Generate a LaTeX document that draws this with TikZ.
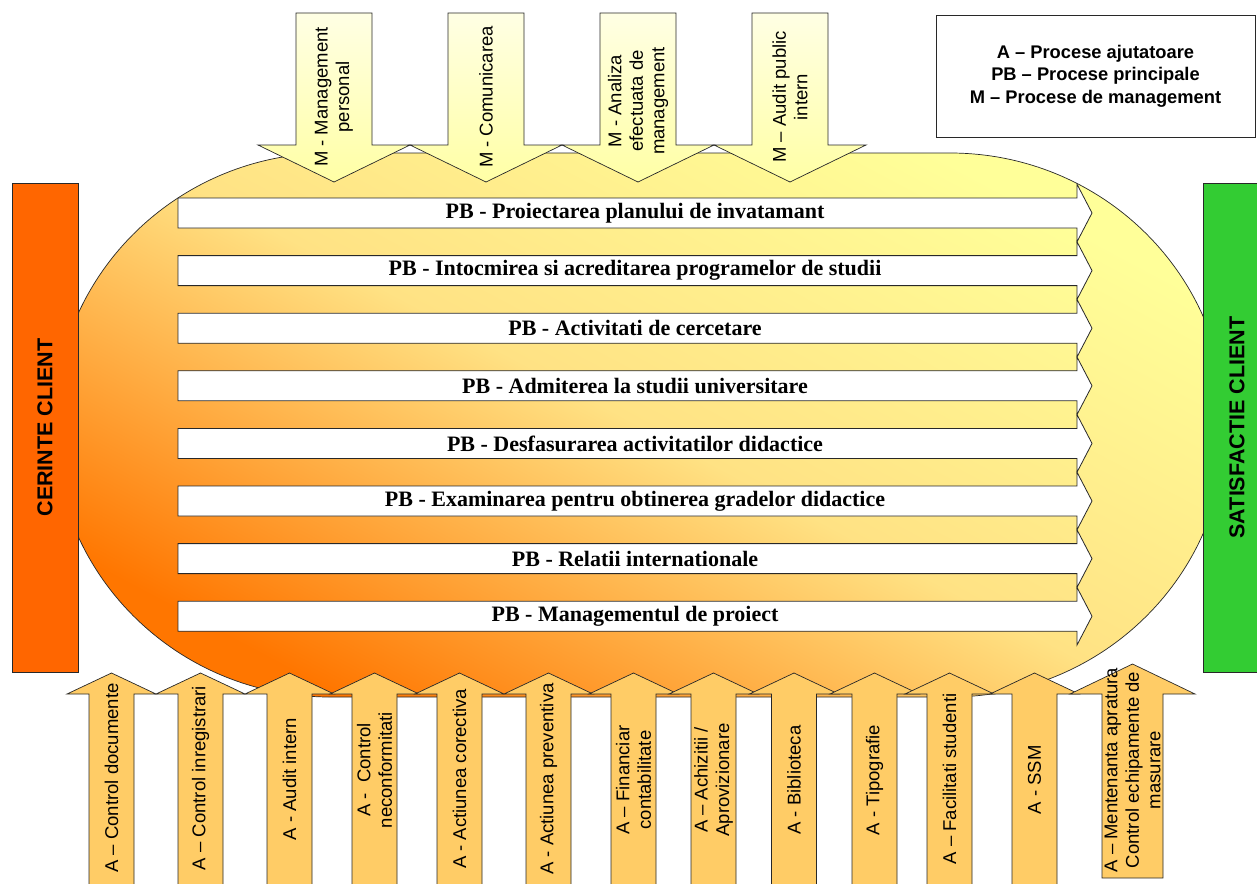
\documentclass[tikz,border=0pt]{standalone}
\usepackage{fontspec}
\setmainfont{Liberation Serif}
\setsansfont{Liberation Sans}

\definecolor{cerorange}{RGB}{255,102,0}
\definecolor{satgreen}{RGB}{51,204,51}
\definecolor{ovalorange}{RGB}{255,118,0}
\definecolor{ovalmid}{RGB}{255,226,132}
\definecolor{ovalyellow}{RGB}{255,255,153}
\definecolor{mtop}{RGB}{255,255,228}
\definecolor{mbot}{RGB}{255,255,165}
\definecolor{afill}{RGB}{255,204,102}
\definecolor{edge}{RGB}{40,40,40}

\begin{document}
\begin{tikzpicture}[x=1pt, y=-1pt,
    oval/.style={draw=edge, line width=0.7pt, top color=ovalyellow, bottom color=ovalorange, middle color=ovalmid, shading angle=-28},
    pbarrow/.style={draw=edge, line width=0.8pt, fill=white},
    marrow/.style={draw=edge, line width=0.7pt, top color=mtop, bottom color=mbot},
    aarrow/.style={draw=edge, line width=0.7pt, fill=afill},
    pblabel/.style={font=\fontsize{22}{24}\selectfont\bfseries, inner sep=0pt},
    mlabel/.style={font=\sffamily\fontsize{18.5}{21.5}\selectfont, align=center, rotate=90, inner sep=0pt},
    clientbar/.style={draw=edge, line width=0.7pt, rotate=90, inner sep=0pt, font=\sffamily\bfseries\fontsize{21.5}{24}\selectfont}]
  \useasboundingbox (0,0) rectangle (1257,883);

  % oval behind the main processes
  \draw[oval] (330,153) -- (950,153) arc[start angle=-90, end angle=90, x radius=276, y radius=272]
    -- (330,697) arc[start angle=90, end angle=270, x radius=276, y radius=272] -- cycle;

  % PB arrows
  \draw[pbarrow] (178,198) -- ++(899,0) -- ++(0,-13.8) -- ++(15,28.8) -- ++(-15,28.8) -- ++(0,-13.8) -- ++(-899,0) -- cycle;
  \draw[pbarrow] (178,255.6) -- ++(899,0) -- ++(0,-13.8) -- ++(15,28.8) -- ++(-15,28.8) -- ++(0,-13.8) -- ++(-899,0) -- cycle;
  \draw[pbarrow] (178,313.2) -- ++(899,0) -- ++(0,-13.8) -- ++(15,28.8) -- ++(-15,28.8) -- ++(0,-13.8) -- ++(-899,0) -- cycle;
  \draw[pbarrow] (178,370.8) -- ++(899,0) -- ++(0,-13.8) -- ++(15,28.8) -- ++(-15,28.8) -- ++(0,-13.8) -- ++(-899,0) -- cycle;
  \draw[pbarrow] (178,428.4) -- ++(899,0) -- ++(0,-13.8) -- ++(15,28.8) -- ++(-15,28.8) -- ++(0,-13.8) -- ++(-899,0) -- cycle;
  \draw[pbarrow] (178,486) -- ++(899,0) -- ++(0,-13.8) -- ++(15,28.8) -- ++(-15,28.8) -- ++(0,-13.8) -- ++(-899,0) -- cycle;
  \draw[pbarrow] (178,543.6) -- ++(899,0) -- ++(0,-13.8) -- ++(15,28.8) -- ++(-15,28.8) -- ++(0,-13.8) -- ++(-899,0) -- cycle;
  \draw[pbarrow] (178,601.2) -- ++(899,0) -- ++(0,-13.8) -- ++(15,28.8) -- ++(-15,28.8) -- ++(0,-13.8) -- ++(-899,0) -- cycle;

  % M arrows
  \draw[marrow] (296,13) -- ++(76,0) -- ++(0,132) -- ++(38,0) -- ++(-76,37) -- ++(-76,-37) -- ++(38,0) -- cycle;
  \draw[marrow] (448,13) -- ++(76,0) -- ++(0,132) -- ++(38,0) -- ++(-76,37) -- ++(-76,-37) -- ++(38,0) -- cycle;
  \draw[marrow] (600,13) -- ++(76,0) -- ++(0,132) -- ++(38,0) -- ++(-76,37) -- ++(-76,-37) -- ++(38,0) -- cycle;
  \draw[marrow] (752,13) -- ++(76,0) -- ++(0,132) -- ++(38,0) -- ++(-76,37) -- ++(-76,-37) -- ++(38,0) -- cycle;

  % A arrows
  \draw[aarrow] (89,890) -- ++(0,-196) -- ++(-22,0) -- ++(44.5,-21) -- ++(44.5,21) -- ++(-22,0) -- ++(0,196) -- cycle;
  \draw[aarrow] (178,890) -- ++(0,-196) -- ++(-22,0) -- ++(44.5,-21) -- ++(44.5,21) -- ++(-22,0) -- ++(0,196) -- cycle;
  \draw[aarrow] (267,890) -- ++(0,-196) -- ++(-22,0) -- ++(44.5,-21) -- ++(44.5,21) -- ++(-22,0) -- ++(0,196) -- cycle;
  \draw[aarrow] (352,890) -- ++(0,-196) -- ++(-22,0) -- ++(44.5,-21) -- ++(44.5,21) -- ++(-22,0) -- ++(0,196) -- cycle;
  \draw[aarrow] (437,890) -- ++(0,-196) -- ++(-22,0) -- ++(44.5,-21) -- ++(44.5,21) -- ++(-22,0) -- ++(0,196) -- cycle;
  \draw[aarrow] (526,890) -- ++(0,-196) -- ++(-22,0) -- ++(44.5,-21) -- ++(44.5,21) -- ++(-22,0) -- ++(0,196) -- cycle;
  \draw[aarrow] (611,890) -- ++(0,-196) -- ++(-22,0) -- ++(44.5,-21) -- ++(44.5,21) -- ++(-22,0) -- ++(0,196) -- cycle;
  \draw[aarrow] (691,890) -- ++(0,-196) -- ++(-22,0) -- ++(44.5,-21) -- ++(44.5,21) -- ++(-22,0) -- ++(0,196) -- cycle;
  \draw[aarrow] (771.5,890) -- ++(0,-196) -- ++(-22,0) -- ++(44.5,-21) -- ++(44.5,21) -- ++(-22,0) -- ++(0,196) -- cycle;
  \draw[aarrow] (852,890) -- ++(0,-196) -- ++(-22,0) -- ++(44.5,-21) -- ++(44.5,21) -- ++(-22,0) -- ++(0,196) -- cycle;
  \draw[aarrow] (927,890) -- ++(0,-196) -- ++(-22,0) -- ++(44.5,-21) -- ++(44.5,21) -- ++(-22,0) -- ++(0,196) -- cycle;
  \draw[aarrow] (1012,890) -- ++(0,-196) -- ++(-22,0) -- ++(44.5,-21) -- ++(44.5,21) -- ++(-22,0) -- ++(0,196) -- cycle;
  \draw[aarrow] (1102,878) -- ++(0,-184) -- ++(-32,0) -- ++(62.5,-30) -- ++(62.5,30) -- ++(-32,0) -- ++(0,184) -- cycle;

  % client bars
  \node[clientbar, fill=cerorange, minimum width=489, minimum height=66] (cerinte) at (45,427.5) {CERINTE CLIENT};
  \node[clientbar, fill=satgreen, minimum width=489, minimum height=68] (satisf) at (1237,427.5) {SATISFACTIE CLIENT};

  % legend
  \node[draw=edge, line width=0.7pt, minimum width=319, minimum height=122, align=center,
        font=\sffamily\bfseries\fontsize{18.3}{22.5}\selectfont] (legend) at (1095.5,76)
        {A -- Procese ajutatoare\\PB -- Procese principale\\M -- Procese de management};

  % PB labels
  \node[pblabel] (pb1) at (635,213) {PB - Proiectarea planului de invatamant};
  \node[pblabel] (pb2) at (635,270.6) {PB - Intocmirea si acreditarea programelor de studii};
  \node[pblabel] (pb3) at (635,328.2) {PB - Activitati de cercetare};
  \node[pblabel] (pb4) at (635,385.8) {PB - Admiterea la studii universitare};
  \node[pblabel] (pb5) at (635,443.4) {PB - Desfasurarea activitatilor didactice};
  \node[pblabel] (pb6) at (635,501) {PB - Examinarea pentru obtinerea gradelor didactice};
  \node[pblabel] (pb7) at (635,558.6) {PB - Relatii internationale};
  \node[pblabel] (pb8) at (635,616.2) {PB - Managementul de proiect};

  % M labels
  \node[mlabel] (m1) at (334,97) {M - Management\\personal};
  \node[mlabel] (m2) at (486,97) {M - Comunicarea};
  \node[mlabel] (m3) at (638,101) {M - Analiza\\efectuata de\\management};
  \node[mlabel] (m4) at (790,97) {M -- Audit public\\intern};

  % A labels
  \node[mlabel] (a1) at (111.5,778) {A -- Control documente};
  \node[mlabel] (a2) at (200.5,778) {A -- Control inregistrari};
  \node[mlabel] (a3) at (289.5,779) {A - Audit intern};
  \node[mlabel] (a4) at (374.5,770) {A - \ Control\\neconformitati};
  \node[mlabel] (a5) at (459.5,779) {A - Actiunea corectiva};
  \node[mlabel] (a6) at (548.5,779) {A - Actiunea preventiva};
  \node[mlabel] (a7) at (633.5,780) {A -- Financiar\\contabilitate};
  \node[mlabel] (a8) at (713.5,780) {A -- Achizitii /\\Aprovizionare};
  \node[mlabel] (a9) at (794,780) {A - Biblioteca};
  \node[mlabel] (a10) at (874.5,780) {A - Tipografie};
  \node[mlabel] (a11) at (949.5,779) {A -- Facilitati studenti};
  \node[mlabel] (a12) at (1034.5,780) {A - SSM};
  \node[mlabel] (a13) at (1132.5,770) {A -- Mentenanta apratura\\Control echipamente de\\masurare};
\end{tikzpicture}
\end{document}
